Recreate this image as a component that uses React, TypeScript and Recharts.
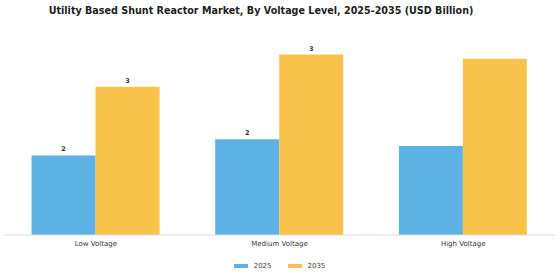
import React from "react";
import { BarChart, Bar, XAxis, YAxis, Legend, LabelList } from "recharts";

const categories = ["Low Voltage", "Medium Voltage", "High Voltage"];
const values2025 = [1.53, 1.84, 1.71];
const values2035 = [2.85, 3.47, 3.39];
const labelled = [true, true, false];

const data = categories.map((c, i) => ({
  name: c,
  y2025: values2025[i],
  y2035: values2035[i],
  show: labelled[i],
}));

const BLUE = "#5DB1E4";
const YELLOW = "#F8C34A";
const FONT = "DejaVu Sans, sans-serif";

const makeLabel = (key: "y2025" | "y2035") => (props: any) => {
  const { x, y, width, index } = props;
  if (!data[index].show) return null;
  return (
    <text
      x={x + width / 2}
      y={y - 4}
      textAnchor="middle"
      fontSize={6.5}
      fontWeight="bold"
      fill="#333"
      fontFamily={FONT}
    >
      {Math.round(data[index][key])}
    </text>
  );
};

const renderLegend = () => (
  <div style={{ display: "flex", justifyContent: "center", alignItems: "center", fontFamily: FONT, fontSize: 7, color: "#444", height: 21 }}>
    {[
      ["2025", BLUE],
      ["2035", YELLOW],
    ].map(([label, color]) => (
      <div key={label} style={{ display: "flex", alignItems: "center", margin: "0 8px" }}>
        <div style={{ width: 14, height: 4, background: color, marginRight: 6 }} />
        <span>{label}</span>
      </div>
    ))}
  </div>
);

export default function App() {
  return (
    <div style={{ position: "absolute", left: 0, top: 0, width: 560, height: 280, background: "#fff" }}>
      <div
        style={{
          position: "absolute",
          top: 5,
          left: 0,
          width: 522,
          textAlign: "center",
          fontFamily: FONT,
          fontWeight: "bold",
          fontSize: 9.6,
          color: "#222",
          whiteSpace: "nowrap",
        }}
      >
        Utility Based Shunt Reactor Market, By Voltage Level, 2025-2035 (USD Billion)
      </div>
      <BarChart
        width={560}
        height={280}
        data={data}
        margin={{ top: 27, right: 5, left: 4, bottom: 0 }}
        barCategoryGap="15%"
        barGap={0}
      >
        <XAxis
          dataKey="name"
          height={20}
          tickLine={false}
          axisLine={{ stroke: "#ddd" }}
          tick={{ fontSize: 7, fill: "#333", fontFamily: FONT }}
          tickMargin={0}
        />
        <YAxis hide domain={[0, 4]} />
        <Legend verticalAlign="bottom" height={25} content={renderLegend} />
        <Bar dataKey="y2025" fill={BLUE} isAnimationActive={false}>
          <LabelList dataKey="y2025" content={makeLabel("y2025")} />
        </Bar>
        <Bar dataKey="y2035" fill={YELLOW} isAnimationActive={false}>
          <LabelList dataKey="y2035" content={makeLabel("y2035")} />
        </Bar>
      </BarChart>
    </div>
  );
}
